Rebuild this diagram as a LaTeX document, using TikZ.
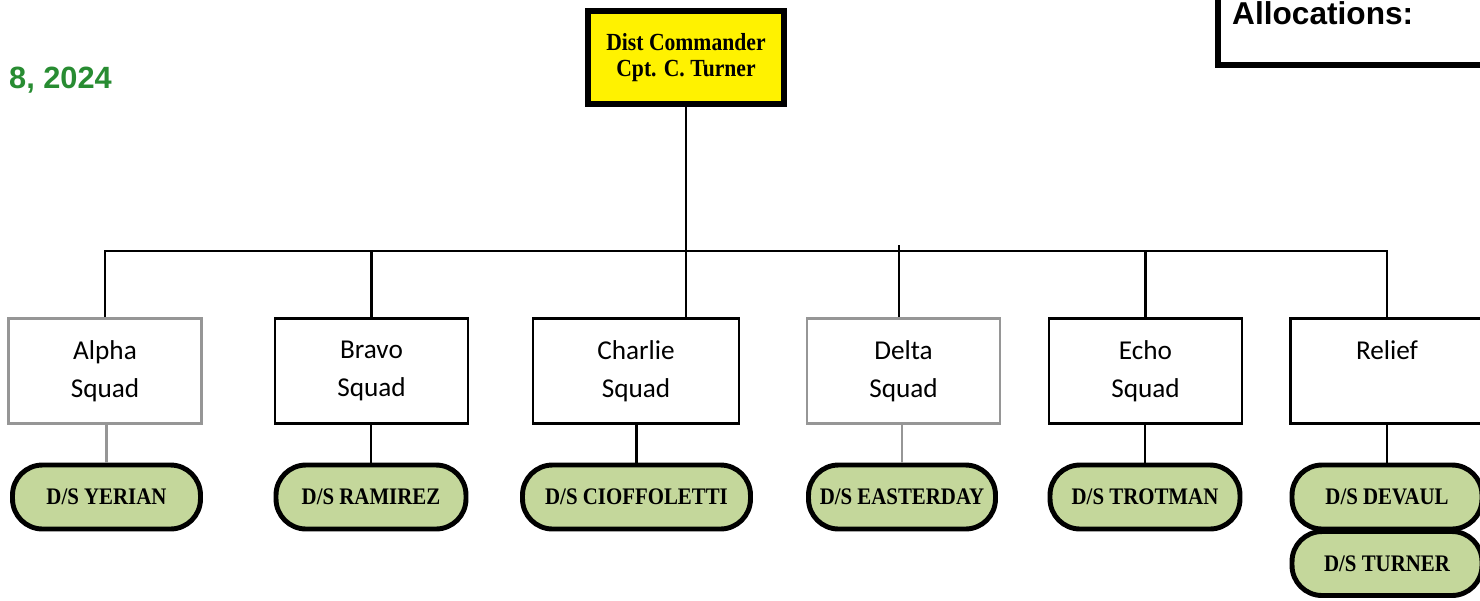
\documentclass[tikz,border=0pt]{standalone}
\usepackage{fontspec}
\usepackage{tikz}
\usetikzlibrary{positioning}
\newfontfamily\cmdfont[FakeStretch=0.88]{Liberation Serif}
\newfontfamily\squadfont{Carlito}
\newfontfamily\headfont{Liberation Sans}
\definecolor{pillgreen}{RGB}{196,215,155}
\definecolor{dategreen}{RGB}{40,140,50}
\definecolor{boxgray}{RGB}{150,150,150}
\tikzset{cmd/.style = {draw, line width = 3.4pt, fill = yellow, align = center, inner sep = 0,
                       minimum width = 3.92cm, minimum height = 1.86cm,
                       font = \cmdfont\bfseries\fontsize{14}{15}\selectfont}}
\tikzset{squad/.style = {draw, line width = 1.2pt, align = center, inner sep = 0,
                         minimum width = 3.86cm, minimum height = 2.1cm,
                         font = \squadfont\fontsize{15.5}{21.5}\selectfont}}
\tikzset{greysquad/.style = {squad, draw = boxgray, line width = 1.6pt}}
\tikzset{ds/.style = {draw, line width = 2.8pt, fill = pillgreen, inner sep = 0,
                      rounded corners = 0.6cm, minimum width = 3.8cm, minimum height = 1.28cm,
                      font = \cmdfont\bfseries\fontsize{13.5}{15}\selectfont}}
\tikzset{link/.style = {draw, line width = 1.3pt}}
\tikzset{greylink/.style = {draw = boxgray, line width = 1.6pt}}

\begin{document}
\begin{tikzpicture}[x=0.02cm, y=-0.02cm]
      \clip (0, 0) rectangle (1480, 600);

      \node [anchor = base west, text = dategreen, font = \headfont\bfseries\fontsize{17.5}{20}\selectfont] (date) at (3, 88) {8, 2024};

      \draw [line width = 3.4pt] (1218, -60) rectangle (1560, 65);
      \node [anchor = base west, font = \headfont\bfseries\fontsize{18}{20}\selectfont] (alloc) at (1226, 24) {Allocations:};

      \node [cmd] (cmd) at (686, 57.5) {Dist Commander\\Cpt. C. Turner};

      \node [greysquad] (alpha) at (105, 371) {Alpha\\Squad};
      \node [squad] (bravo) at (371.5, 371) {Bravo\\Squad};
      \node [squad, minimum width = 4.12cm] (charlie) at (636, 371) {Charlie\\Squad};
      \node [greysquad] (delta) at (903.5, 371) {Delta\\Squad};
      \node [squad] (echo) at (1145.5, 371) {Echo\\Squad};
      \node [squad] (relief) at (1387, 371) {Relief\\\vphantom{Squad}};

      \node [ds, minimum width = 3.76cm] (yerian) at (106.5, 497) {D/S YERIAN};
      \node [ds] (ramirez) at (371, 497) {D/S RAMIREZ};
      \node [ds, minimum width = 4.56cm] (cioffoletti) at (636.5, 497) {D/S CIOFFOLETTI};
      \node [ds, minimum width = 3.74cm] (easterday) at (902, 497) {D/S EASTERDAY};
      \node [ds] (trotman) at (1145, 497) {D/S TROTMAN};
      \node [ds] (turner) at (1387, 563.5) {D/S TURNER};
      \node [ds] (devaul) at (1387, 497) {D/S DEVAUL};

      \coordinate (bus) at (686, 251);
      \coordinate (deltatop) at (899, 245);

      \draw [link] (cmd) -- (cmd.south |- charlie.north);
      \draw [link] (alpha.north) -- (alpha.north |- bus) -- (relief.north |- bus) -- (relief.north);
      \draw [link] (bravo.north) -- (bravo.north |- bus);
      \draw [link] (deltatop) -- (deltatop |- delta.north);
      \draw [link] (echo.north) -- (echo.north |- bus);

      \draw [greylink] (yerian.north |- alpha.south) -- (yerian.north);
      \draw [link] (ramirez.north |- bravo.south) -- (ramirez.north);
      \draw [link] (cioffoletti.north |- charlie.south) -- (cioffoletti.north);
      \draw [greylink] (easterday.north |- delta.south) -- (easterday.north);
      \draw [link] (trotman.north |- echo.south) -- (trotman.north);
      \draw [link] (devaul.north |- relief.south) -- (devaul.north);
\end{tikzpicture}
\end{document}
